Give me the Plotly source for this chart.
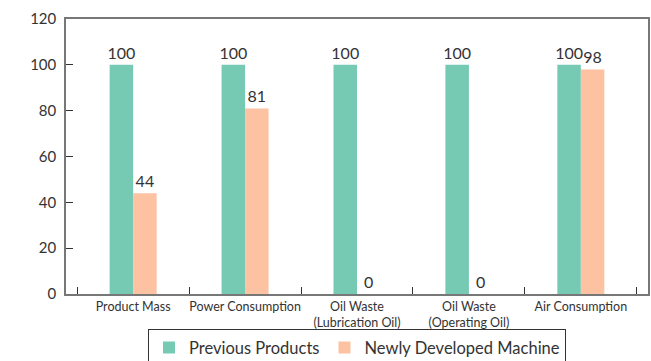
import plotly.graph_objects as go

categories = ["Product Mass", "Power Consumption", "Oil Waste<br>(Lubrication Oil)",
              "Oil Waste<br>(Operating Oil)", "Air Consumption"]
previous = [100, 100, 100, 100, 100]
newly = [44, 81, 0, 0, 98]
y_ticks = [0, 20, 40, 60, 80, 100, 120]

GREEN = "#76C9B2"
SALMON = "#FDC2A2"
TXT = "#333333"
FONT = "Lato"

fig = go.Figure()
fig.add_trace(go.Bar(x=categories, y=previous, name="Previous Products",
                     marker=dict(color=GREEN, line=dict(width=0)),
                     text=[str(v) for v in previous], textposition="outside",
                     constraintext="none",
                     textfont=dict(size=16, color=TXT, family=FONT), cliponaxis=False))
fig.add_trace(go.Bar(x=categories, y=newly, name="Newly Developed Machine",
                     marker=dict(color=SALMON, line=dict(width=0)),
                     text=[str(v) for v in newly], textposition="outside",
                     constraintext="none",
                     textfont=dict(size=16, color=TXT, family=FONT), cliponaxis=False))

fig.update_layout(
    width=651, height=361,
    margin=dict(l=66, r=3, t=19, b=67, autoexpand=False),
    paper_bgcolor="white", plot_bgcolor="white",
    barmode="group", bargap=0.58, bargroupgap=0,
    font=dict(family=FONT, color=TXT),
    showlegend=True,
    legend=dict(orientation="h", x=0.5, xanchor="center", y=-0.128, yanchor="top",
                bordercolor="#333333", borderwidth=1, font=dict(size=16.5, color=TXT)),
)
fig.update_xaxes(
    range=[-0.6, 4.6], showline=True, linecolor="#777777", linewidth=1.5, mirror=True,
    ticks="inside", ticklen=7, tickcolor="#333333", tickson="boundaries",
    tickangle=0, automargin=False,
    tickfont=dict(size=12.5, color=TXT), showgrid=False,
)
fig.update_yaxes(
    range=[0, 120], tickvals=y_ticks, showline=True, linecolor="#777777", linewidth=1.5,
    mirror=True, ticks="inside", ticklen=7, tickcolor="#333333", automargin=False,
    ticklabelstandoff=5,
    tickfont=dict(size=15, color=TXT), showgrid=False, zeroline=False,
)

fig.write_html("out.html")
